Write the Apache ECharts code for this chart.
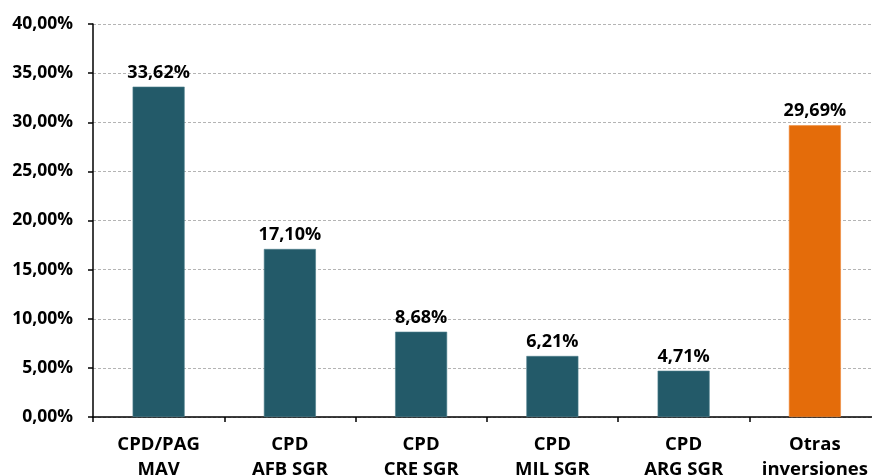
<!DOCTYPE html>
<html>
<head>
<meta charset="utf-8">
<script src="https://cdn.jsdelivr.net/npm/echarts@6/dist/echarts.min.js"></script>
<style>
  html, body { margin: 0; padding: 0; background: #fff; }
  #chart { width: 872px; height: 476px; }
</style>
</head>
<body>
<div id="chart"></div>
<script>
const categories = ["CPD/PAG\nMAV", "CPD\nAFB SGR", "CPD\nCRE SGR", "CPD\nMIL SGR", "CPD\nARG SGR", "Otras\ninversiones"];
const shares = [33.62, 17.10, 8.68, 6.21, 4.71, 29.69];
const barColors = ["#235a69", "#235a69", "#235a69", "#235a69", "#235a69", "#e46c0a"];

const pct = (v) => v.toFixed(2).replace(".", ",") + "%";
const fontFamily = "'Open Sans', 'Liberation Sans', sans-serif";

const chart = echarts.init(document.getElementById("chart"));
chart.setOption({
  animation: false,
  grid: { left: 93, right: -8.5, top: 24, bottom: 59, containLabel: false, outerBoundsMode: "none" },
  xAxis: {
    type: "category",
    data: categories,
    axisLine: { lineStyle: { color: "#000", width: 1.5 } },
    axisTick: { show: true, length: 5, lineStyle: { color: "#000", width: 1.5 } },
    axisLabel: {
      color: "#000",
      fontFamily,
      fontWeight: "bold",
      fontSize: 18.5,
      lineHeight: 25,
      margin: 15,
      interval: 0,
    },
  },
  yAxis: {
    type: "value",
    min: 0,
    max: 40,
    interval: 5,
    axisLine: { show: true, lineStyle: { color: "#000", width: 1.5 } },
    axisTick: { show: true, length: 5, lineStyle: { color: "#000", width: 1.5 } },
    axisLabel: {
      color: "#000",
      fontFamily,
      fontWeight: "bold",
      fontSize: 17.5,
      margin: 20,
      formatter: pct,
    },
    splitLine: { lineStyle: { color: "#b4b4b4", type: [3, 2], width: 1 } },
  },
  series: [
    {
      type: "bar",
      barWidth: 52,
      data: shares.map((v, i) => ({
        value: v,
        itemStyle: { color: barColors[i], borderColor: i === 5 ? "#f08a3a" : "#4e7f8d", borderWidth: 0.6 },
      })),
      label: {
        show: true,
        position: "top",
        distance: 5,
        color: "#000",
        fontFamily,
        fontWeight: "bold",
        fontSize: 18,
        formatter: (p) => pct(p.value),
      },
    },
  ],
});
</script>
</body>
</html>
